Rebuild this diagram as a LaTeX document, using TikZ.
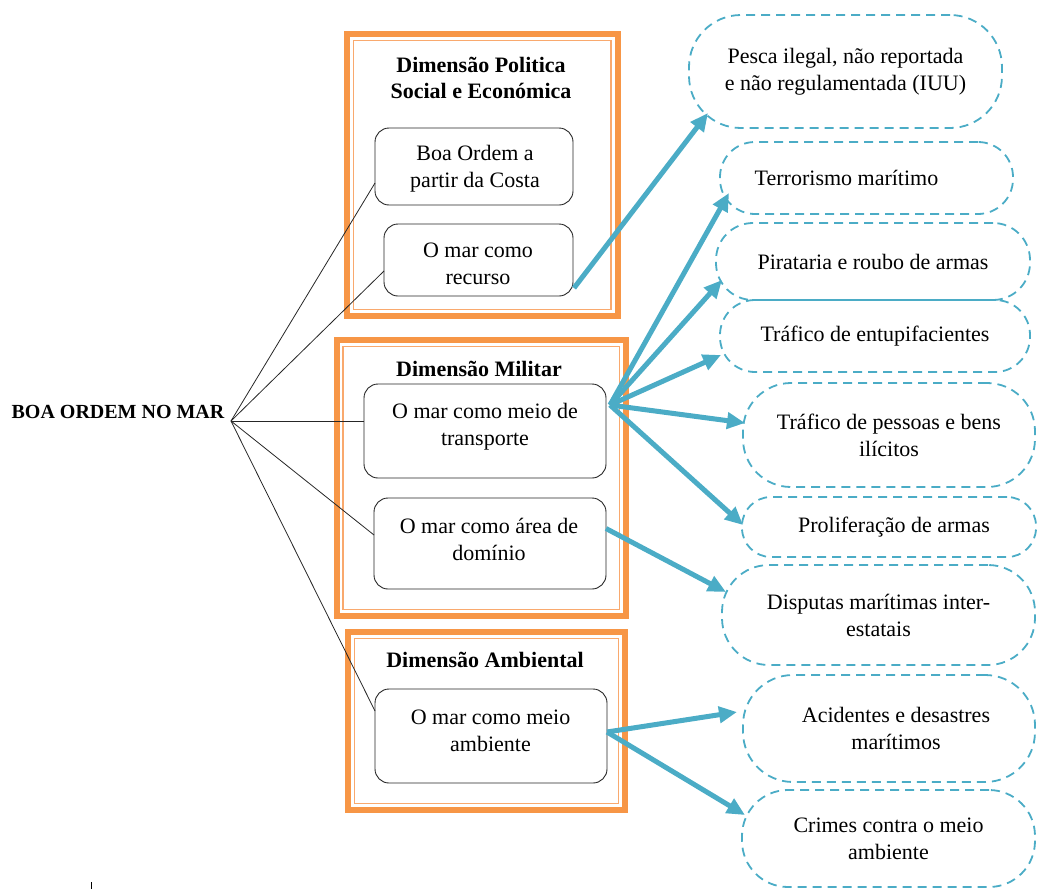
\documentclass[tikz,border=0pt]{standalone}
\usepackage{fontspec}
\setmainfont{Liberation Serif}
\usetikzlibrary{arrows.meta,calc}
\definecolor{org}{HTML}{F79646}
\definecolor{orglight}{HTML}{F9A96E}
\definecolor{aqua}{HTML}{4BACC6}
\begin{document}
\begin{tikzpicture}[x=1pt,y=-1pt,
  every node/.style={inner sep=0pt, outer sep=0pt},
  txt/.style={font=\fontsize{22}{27}\selectfont, align=center},
  ttl/.style={font=\fontsize{22}{26}\selectfont\bfseries, align=center},
  rootstyle/.style={font=\fontsize{20}{24}\selectfont\bfseries},
  frameouter/.style={draw=org, line width=6pt},
  frameinner/.style={draw=orglight, line width=1.5pt},
  blackbox/.style={draw=black!85, line width=0.9pt, rounded corners=14pt, rectangle, fill=white},
  riskbox/.style={draw=aqua, line width=1.8pt, dash pattern=on 9pt off 6pt, rounded corners=34pt, rectangle, font=\fontsize{22}{27}\selectfont, align=center},
  link/.style={draw=black!85, line width=0.8pt},
  arr/.style={draw=aqua, line width=5pt, -{Triangle[length=18pt,width=16pt]}},
]
\useasboundingbox (0,0) rectangle (1037,889);

% frames
\draw[frameouter] (347,34) rectangle (617.5,316);
\draw[frameinner] (353.5,40.5) rectangle (611,309.5);
\draw[frameouter] (336.5,340) rectangle (626,616);
\draw[frameinner] (343,346.5) rectangle (619.5,609.5);
\draw[frameouter] (348,632) rectangle (625,810);
\draw[frameinner] (354.5,638.5) rectangle (618.5,803.5);

% titles
\node[ttl] (t1) at (481,77.5) {Dimensão Politica\\Social e Económica};
\node[ttl] (t2) at (479,369) {Dimensão Militar};
\node[ttl] (t3) at (485,660) {Dimensão Ambiental};

% root
\node[rootstyle] (root) at (118,411.5) {BOA ORDEM NO MAR};
\coordinate (rj) at (231,421);

% black boxes
\node[blackbox, minimum width=198pt, minimum height=77pt] (b1) at (474,166.5) {};
\node[blackbox, minimum width=189pt, minimum height=72pt] (b2) at (478.5,260) {};
\node[blackbox, minimum width=242pt, minimum height=94pt] (b3) at (485,431) {};
\node[blackbox, minimum width=232pt, minimum height=91pt] (b4) at (490,543.5) {};
\node[blackbox, minimum width=232pt, minimum height=94pt] (b5) at (491,736) {};

\node[txt] (b1t) at (475,169) {Boa Ordem a\\partir da Costa};
\node[txt] (b2t) at (478,264) {O mar como\\recurso};
\node[txt] (b3t) at (485,427) {O mar como meio de\\transporte};
\node[txt] (b4t) at (489,539) {O mar como área de\\domínio};
\node[txt] (b5t) at (490.5,731) {O mar como meio\\ambiente};

% links from root
\draw[link] (rj) -- ($(b1.west)+(0,16.5)$);
\draw[link] (rj) -- ($(b2.west)+(0,11)$);
\draw[link] (rj) -- ($(b3.west)+(0,-10)$);
\draw[link] (rj) -- ($(b4.west)+(0,-8.5)$);
\draw[link] (rj) -- ($(b5.west)+(0,-25)$);

% risk boxes
\node[riskbox, rounded corners=52pt, minimum width=313pt, minimum height=113pt] (r1) at (845.5,71.5) {Pesca ilegal, não reportada\\e não regulamentada (IUU)};
\node[riskbox, rounded corners=35pt, minimum width=293pt, minimum height=72pt] (r2) at (866.5,178) {Terrorismo marítimo\hspace*{40pt}};
\node[riskbox, rounded corners=37pt, minimum width=314pt, minimum height=77pt] (r3) at (873,261.5) {Pirataria e roubo de armas};
\node[riskbox, rounded corners=35pt, minimum width=310pt, minimum height=72pt] (r4) at (875,336) {Tráfico de entupifacientes};
\node[riskbox, rounded corners=48pt, minimum width=292pt, minimum height=104pt] (r5) at (889,435) {Tráfico de pessoas e bens\\ilícitos};
\node[riskbox, rounded corners=29pt, minimum width=294pt, minimum height=60pt] (r6) at (889,527) {\hspace*{10pt}Proliferação de armas};
\node[riskbox, rounded corners=47pt, minimum width=313pt, minimum height=100pt] (r7) at (878.5,615) {Disputas marítimas inter-\\estatais};
\node[riskbox, rounded corners=50pt, minimum width=292pt, minimum height=107pt] (r8) at (889,728.5) {\hspace*{14pt}Acidentes e desastres\\\hspace*{14pt}marítimos};
\node[riskbox, rounded corners=46pt, minimum width=293pt, minimum height=97pt] (r9) at (888.5,838.5) {Crimes contra o meio\\ambiente};

% arrows
\coordinate (hub) at ($(b3.east)+(4,-26)$);
\draw[arr] ($(b2.south east)+(1,-8)$) -- ($(r1.south west)+(19,-15)$);
\draw[arr] (hub) -- ($(r2.west)+(9,15)$);
\draw[arr] (hub) -- ($(r3.west)+(6,18.5)$);
\draw[arr] (hub) -- ($(r4.west)+(1,19)$);
\draw[arr] (hub) -- ($(r5.west)+(2,-12)$);
\draw[arr] (hub) -- ($(r6.west)+(1,-2)$);
\draw[arr] ($(b4.east)+(0,-15)$) -- ($(r7.west)+(4,-23)$);
\coordinate (hub2) at ($(b5.east)+(0,-4)$);
\draw[arr] (hub2) -- ($(r8.west)+(-6,-16.5)$);
\draw[arr] (hub2) -- ($(r9.west)+(3,-23.5)$);

\draw[line width=1pt] (91,882) -- (91,889);
\end{tikzpicture}
\end{document}
